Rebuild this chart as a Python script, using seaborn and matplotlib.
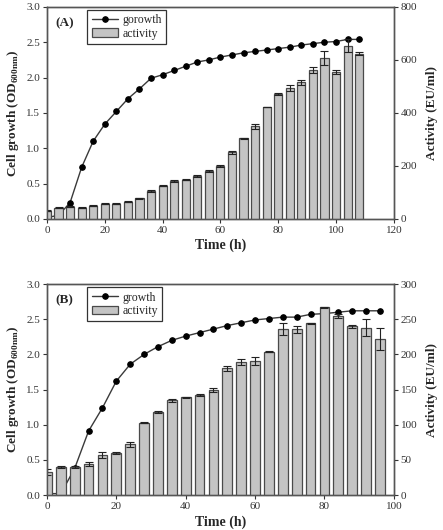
import matplotlib
matplotlib.use("Agg")
import matplotlib.pyplot as plt
import seaborn as sns

# Panel A
time_a = list(range(0, 112, 4))
growth_a = [0.02, 0.05, 0.23, 0.73, 1.10, 1.34, 1.52, 1.70, 1.84, 1.99, 2.04, 2.10,
            2.16, 2.22, 2.25, 2.29, 2.32, 2.35, 2.37, 2.39, 2.41, 2.43, 2.46, 2.48,
            2.50, 2.51, 2.54, 2.54]
activity_a = [31, 42, 45, 42, 49, 57, 58, 64, 77, 105, 126, 144, 147, 161, 181, 201,
              251, 304, 349, 422, 472, 494, 515, 563, 606, 554, 654, 624]
activity_err_a = [2, 2, 2, 2, 2, 2, 2, 2, 2, 3, 3, 3, 2, 3, 3, 4,
                  6, 2, 8, 1, 4, 12, 8, 12, 27, 8, 23, 6]

# Panel B
time_b = list(range(0, 100, 4))
growth_b = [0.02, 0.02, 0.38, 0.91, 1.24, 1.62, 1.86, 2.00, 2.11, 2.20, 2.26, 2.31,
            2.36, 2.41, 2.45, 2.49, 2.51, 2.53, 2.53, 2.57, 2.58, 2.60, 2.62, 2.62,
            2.62]
activity_b = [33, 40, 40, 44, 57, 60, 72, 103, 118, 135, 139, 142, 149, 180, 189,
              191, 204, 236, 236, 244, 267, 255, 240, 238, 222]
activity_err_b = [4, 1, 1, 3, 4, 1, 3, 1, 1, 2, 1, 1, 3, 3, 4, 6, 1, 8, 5, 1, 1, 3,
                  2, 12, 16]

sns.set_style("ticks")
plt.rcParams["font.family"] = ["Liberation Serif", "DejaVu Serif"]
plt.rcParams["mathtext.fontset"] = "custom"
plt.rcParams["mathtext.rm"] = "Liberation Serif"
plt.rcParams["mathtext.bf"] = "Liberation Serif:bold"

SPINE = "#555555"
BAR = "#c4c4c4"


def panel(ax, t, growth, act, err, letter, line_label, xmax, ymax2, yticks2):
    sns.lineplot(x=t, y=growth, ax=ax, color="#3a3a3a", linewidth=1.0, marker="o",
                 markersize=4, markerfacecolor="black", markeredgecolor="black",
                 label=line_label, legend=False)
    ax2 = ax.twinx()
    sns.barplot(x=t, y=act, ax=ax2, native_scale=True, width=0.7, color=BAR,
                saturation=1, edgecolor="#4a4a4a", linewidth=0.9, errorbar=None,
                label="activity")
    ax2.errorbar(t, act, yerr=err, fmt="none", ecolor="#222222", elinewidth=0.8,
                 capsize=3, capthick=0.8)

    ax.set_xlim(0, xmax)
    ax.set_ylim(0, 3.0)
    ax.set_yticks([0, 0.5, 1.0, 1.5, 2.0, 2.5, 3.0])
    ax.set_yticklabels(["0.0", "0.5", "1.0", "1.5", "2.0", "2.5", "3.0"])
    ax.set_xticks(range(0, xmax + 1, 20))
    ax2.set_xlim(0, xmax)
    ax2.set_ylim(0, ymax2)
    ax2.set_yticks(yticks2)

    ax.set_xlabel("Time (h)", fontsize=10, fontweight="bold", labelpad=3)
    ax.set_ylabel(r"Cell growth (OD$_{\mathbf{600nm}}$)", fontsize=9.5,
                  fontweight="bold", labelpad=4)
    ax2.set_ylabel("Activity (EU/ml)", fontsize=9.5, fontweight="bold", labelpad=6)

    for a in (ax, ax2):
        for s in a.spines.values():
            s.set_color(SPINE)
            s.set_linewidth(1.0)
        a.tick_params(axis="both", labelsize=8, colors="#333333", length=3,
                      width=0.8, direction="out", pad=2)

    ax.text(0.025, 0.95, letter, transform=ax.transAxes, fontsize=9.5,
            fontweight="bold", va="top", ha="left")

    h1, l1 = ax.get_legend_handles_labels()
    h2, l2 = ax2.get_legend_handles_labels()
    leg = ax2.legend(h1 + h2[:1], l1 + l2[:1], loc="upper left",
                     bbox_to_anchor=(0.11, 0.995), fontsize=8.5, frameon=True,
                     fancybox=False, edgecolor="#333333", framealpha=1,
                     borderpad=0.35, labelspacing=0.1, handlelength=2.2,
                     handletextpad=0.4, borderaxespad=0.2)
    leg.get_frame().set_linewidth(0.9)


fig = plt.figure(figsize=(4.43, 5.30), dpi=100)
ax_a = fig.add_axes([0.106, 0.587, 0.783, 0.400])
ax_b = fig.add_axes([0.106, 0.066, 0.783, 0.398])

panel(ax_a, time_a, growth_a, activity_a, activity_err_a, "(A)", "gorowth", 120, 800,
      [0, 200, 400, 600, 800])
panel(ax_b, time_b, growth_b, activity_b, activity_err_b, "(B)", "growth", 100, 300,
      [0, 50, 100, 150, 200, 250, 300])

fig.savefig("out.png", dpi=100)
